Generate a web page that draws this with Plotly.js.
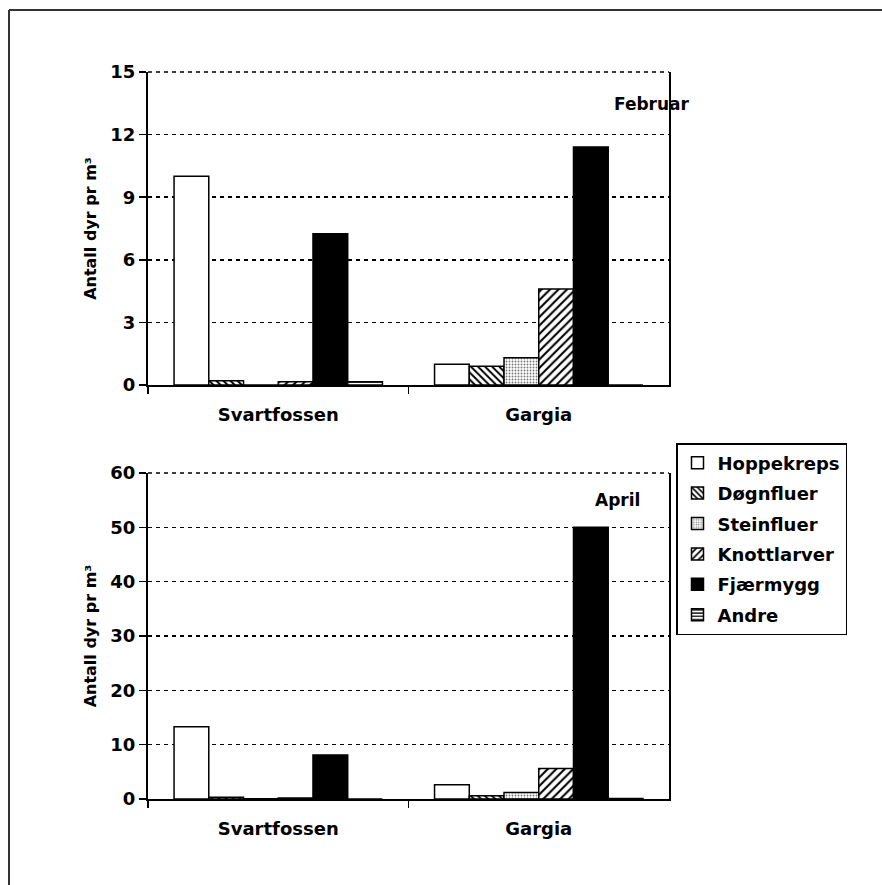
<!DOCTYPE html>
<html>
<head>
<meta charset="utf-8">
<script src="https://cdn.plot.ly/plotly-3.0.1.min.js"></script>
<style>html,body{margin:0;padding:0;background:#fff;}#chart{width:882px;height:885px;}</style>
</head>
<body>
<div id="chart"></div>
<script>
var categories = ["Svartfossen", "Gargia"];
var seriesNames = ["Hoppekreps", "Døgnfluer", "Steinfluer", "Knottlarver", "Fjærmygg", "Andre"];
var februar = {
  "Hoppekreps": [10.0, 1.0],
  "Døgnfluer": [0.2, 0.9],
  "Steinfluer": [0, 1.3],
  "Knottlarver": [0.15, 4.6],
  "Fjærmygg": [7.25, 11.4],
  "Andre": [0.15, 0]
};
var april = {
  "Hoppekreps": [13.3, 2.6],
  "Døgnfluer": [0.3, 0.6],
  "Steinfluer": [0.05, 1.2],
  "Knottlarver": [0.2, 5.6],
  "Fjærmygg": [8.1, 50.0],
  "Andre": [0, 0.1]
};
var topTicks = [0, 3, 6, 9, 12, 15];
var bottomTicks = [0, 10, 20, 30, 40, 50, 60];

var styles = {
  "Hoppekreps": {color: "#ffffff", pattern: {shape: ""}},
  "Døgnfluer": {color: "#ffffff", pattern: {shape: "\\", fgcolor: "#000", bgcolor: "#fff", size: 5, solidity: 0.4}},
  "Steinfluer": {color: "#ffffff", pattern: {shape: ".", fgcolor: "#777", bgcolor: "#fff", size: 3, solidity: 0.3}},
  "Knottlarver": {color: "#ffffff", pattern: {shape: "/", fgcolor: "#000", bgcolor: "#fff", size: 6, solidity: 0.35}},
  "Fjærmygg": {color: "#000000", pattern: {shape: ""}},
  "Andre": {color: "#ffffff", pattern: {shape: "-", fgcolor: "#000", bgcolor: "#fff", size: 4, solidity: 0.4}}
};

var traces = [];
seriesNames.forEach(function (name) {
  var st = styles[name];
  traces.push({
    type: "bar", name: name, x: categories, y: februar[name],
    xaxis: "x", yaxis: "y", legendgroup: name, showlegend: true,
    marker: {color: st.color, pattern: st.pattern, line: {color: "#000", width: 1.5}}
  });
});
seriesNames.forEach(function (name) {
  var st = styles[name];
  traces.push({
    type: "bar", name: name, x: categories, y: april[name],
    xaxis: "x2", yaxis: "y2", legendgroup: name, showlegend: false,
    marker: {color: st.color, pattern: st.pattern, line: {color: "#000", width: 1.5}}
  });
});

var W = 882, H = 885;
var fontFam = "DejaVu Sans, Liberation Sans, Arial, sans-serif";
var tickFont = {family: fontFam, size: 18, color: "#000", weight: "bold"};
function xax(domain, anchor) {
  return {
    domain: domain, anchor: anchor, type: "category",
    showline: true, linecolor: "#000", linewidth: 2,
    ticks: "outside", tickson: "boundaries", ticklen: 7, tickwidth: 1.5, tickcolor: "#000",
    ticklabelstandoff: 12,
    tickfont: tickFont, showgrid: false, zeroline: false, fixedrange: true
  };
}
function yax(domain, anchor, ticks) {
  return {
    domain: domain, anchor: anchor,
    range: [0, ticks[ticks.length - 1]], tickvals: ticks, ticktext: ticks.map(String),
    showline: true, linecolor: "#000", linewidth: 2, mirror: true,
    ticks: "outside", ticklen: 7, tickwidth: 1.5, tickcolor: "#000",
    tickfont: tickFont, showgrid: true, gridcolor: "#000", gridwidth: 1.5, griddash: "4px,4px",
    zeroline: false,
    title: {text: "Antall dyr pr m³", font: {family: fontFam, size: 16, color: "#000", weight: "bold"}, standoff: 10}
  };
}

var topY0 = 1 - 385 / H, topY1 = 1 - 72 / H, botY0 = 1 - 799 / H, botY1 = 1 - 473 / H;
var xd0 = 148 / W, xd1 = 669 / W;

var layout = {
  width: W, height: H,
  margin: {l: 0, r: 0, t: 0, b: 0},
  paper_bgcolor: "#fff", plot_bgcolor: "#fff",
  barmode: "group", bargap: 0.2, bargroupgap: 0,
  showlegend: true,
  xaxis: xax([xd0, xd1], "y"),
  yaxis: yax([topY0, topY1], "x", topTicks),
  xaxis2: xax([xd0, xd1], "y2"),
  yaxis2: yax([botY0, botY1], "x2", bottomTicks),
  legend: {
    x: 676 / W, y: 1 - 443 / H, xanchor: "left", yanchor: "top",
    bordercolor: "#000", borderwidth: 1.5, bgcolor: "#fff",
    font: {family: fontFam, size: 18, color: "#000", weight: "bold"},
    tracegroupgap: 4, itemwidth: 30
  },
  annotations: [
    {text: "Februar", xref: "paper", yref: "paper", x: 652 / W, y: 1 - 104 / H, xanchor: "center", yanchor: "middle", showarrow: false,
     font: {family: fontFam, size: 17, color: "#000", weight: "bold"}},
    {text: "April", xref: "paper", yref: "paper", x: 617 / W, y: 1 - 500 / H, xanchor: "center", yanchor: "middle", showarrow: false,
     font: {family: fontFam, size: 17, color: "#000", weight: "bold"}}
  ],
  shapes: [
    {type: "line", xref: "paper", yref: "paper", x0: 9 / W, x1: 1, y0: 1 - 10 / H, y1: 1 - 10 / H, line: {color: "#333", width: 2}},
    {type: "line", xref: "paper", yref: "paper", x0: 9 / W, x1: 9 / W, y0: 0, y1: 1 - 10 / H, line: {color: "#333", width: 2}},
    {type: "line", xref: "paper", yref: "paper", x0: xd0, x1: xd1, y0: topY1, y1: topY1, line: {color: "#000", width: 1.5, dash: "4px,4px"}},
    {type: "line", xref: "paper", yref: "paper", x0: xd0, x1: xd1, y0: botY1, y1: botY1, line: {color: "#000", width: 1.5, dash: "4px,4px"}}
  ]
};

Plotly.newPlot("chart", traces, layout, {staticPlot: true, displayModeBar: false});
</script>
</body>
</html>
